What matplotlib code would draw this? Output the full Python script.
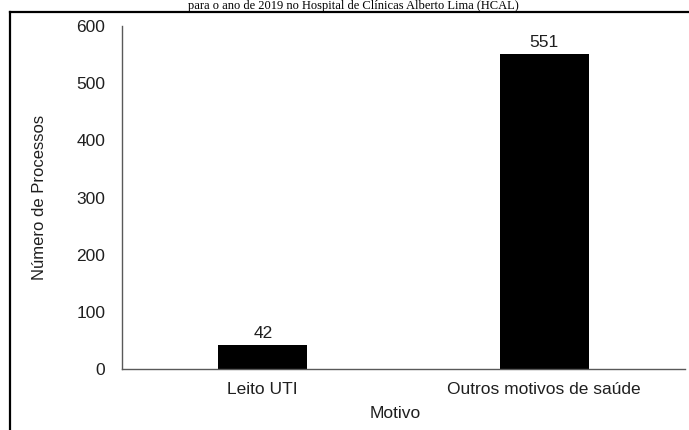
import matplotlib
matplotlib.use("Agg")
import matplotlib.pyplot as plt
from matplotlib.lines import Line2D

# dados do grafico
motivos = ["Leito UTI", "Outros motivos de saúde"]
processos = [42, 551]
yticks = [0, 100, 200, 300, 400, 500, 600]
titulo = "para o ano de 2019 no Hospital de Clínicas Alberto Lima (HCAL)"

W, H = 689, 430
fig = plt.figure(figsize=(W / 100, H / 100), dpi=100)
fig.patch.set_facecolor("white")

# moldura recortada (so topo e esquerda aparecem)
fig.add_artist(Line2D([10 / W, 1.0], [1 - 11.5 / H, 1 - 11.5 / H], color="black", lw=1.6))
fig.add_artist(Line2D([10 / W, 10 / W], [0, 1 - 11.5 / H], color="black", lw=1.6))

# titulo (no original vem cortado no topo)
fig.text(353 / W, 1 - 0.5 / H, titulo, ha="center", va="top",
         family="Liberation Serif", fontsize=9, color="black")

ax = fig.add_axes([122 / W, 61 / H, 563 / W, 343 / H])
font1 = {"family": "Liberation Sans", "size": 12.5, "color": "#1f1f1f"}

x = range(len(motivos))
bars = ax.bar(x, processos, width=0.316, color="black")
ax.bar_label(bars, labels=[str(v) for v in processos], padding=3, **font1)

ax.set_xlim(-0.5, 1.5)
ax.set_ylim(0, 600)
ax.set_yticks(yticks)
ax.set_xticks(list(x))
ax.set_xticklabels(motivos, fontdict=font1)
ax.set_yticklabels([str(t) for t in yticks], fontdict=font1)
ax.tick_params(axis="y", length=0, pad=12)
ax.tick_params(axis="x", length=0, pad=9)

for s in ["top", "right"]:
    ax.spines[s].set_visible(False)
for s in ["left", "bottom"]:
    ax.spines[s].set_color("#595959")
    ax.spines[s].set_linewidth(1.0)

ax.set_xlabel("Motivo", fontdict=font1)
ax.xaxis.set_label_coords(0.485, -0.131)
ax.xaxis.label.set_va("center")
ax.set_ylabel("Número de Processos", fontdict={"family": "Liberation Sans", "size": 12, "color": "#1f1f1f"})
ax.yaxis.set_label_coords(-0.147, 0.5)
ax.yaxis.label.set_va("center")

fig.savefig("out.png", dpi=100)
